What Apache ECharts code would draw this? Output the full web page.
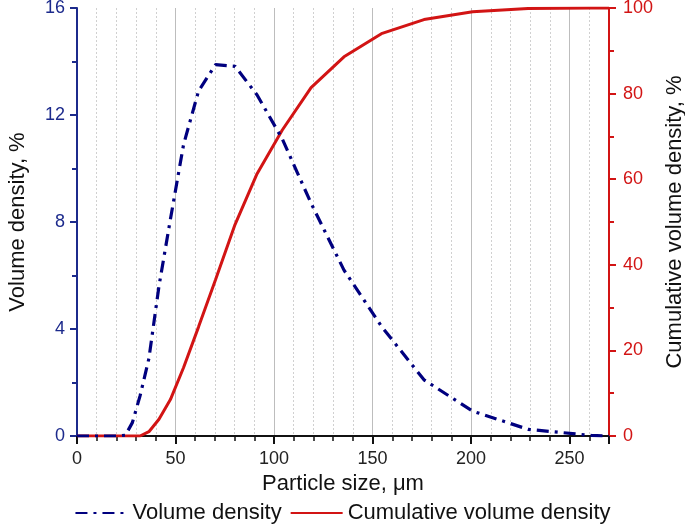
<!DOCTYPE html>
<html>
<head>
<meta charset="utf-8">
<script src="https://cdn.jsdelivr.net/npm/echarts@6/dist/echarts.min.js"></script>
<style>html,body{margin:0;padding:0;background:#fff}#c{width:685px;height:530px}</style>
</head>
<body>
<div id="c"></div>
<script>
var sizes = [0, 10, 20, 21.6, 24.6, 28.1, 32.0, 36.5, 41.6, 47.4, 54.1, 61.7, 70.3, 80.2, 91.4, 104.2, 118.8, 135.5, 154.5, 176.1, 200.8, 228.9, 261.0, 270];
var volumeDensity = [0, 0, 0, 0.01, 0.03, 0.5, 1.5, 2.9, 5.6, 8.1, 10.9, 12.9, 13.88, 13.82, 12.75, 11.1, 8.7, 6.2, 4.1, 2.1, 0.93, 0.25, 0.02, 0];
var cumulativeDensity = [0, 0, 0, 0, 0, 0, 0, 1.0, 3.9, 8.5, 16, 25.5, 36.5, 49.4, 61.3, 71.5, 81.4, 88.6, 94.0, 97.3, 99.1, 99.9, 100, 100];
var xTicks = [0, 50, 100, 150, 200, 250];
var leftTicks = [0, 4, 8, 12, 16];
var rightTicks = [0, 20, 40, 60, 80, 100];

var BLUE = '#1c2a8c';
var NAVY = '#00007f';
var RED = '#d21414';
var FONT = 'Liberation Sans, Arial, sans-serif';

function pairs(xs, ys) { return xs.map(function (x, i) { return [x, ys[i]]; }); }

var chart = echarts.init(document.getElementById('c'));
chart.setOption({
  animation: false,
  textStyle: { fontFamily: FONT },
  grid: { left: 77, right: 76, top: 8, bottom: 94, containLabel: false, outerBoundsMode: 'none' },
  legend: {
    bottom: 1, left: 'center', itemWidth: 52, itemHeight: 14, itemGap: 8,
    itemStyle: { opacity: 0 },
    textStyle: { fontSize: 22, color: '#111', fontFamily: FONT },
    data: ['Volume density', 'Cumulative volume density']
  },
  xAxis: {
    type: 'value', min: 0, max: 270, interval: 50,
    name: 'Particle size, μm', nameLocation: 'middle', nameGap: 36,
    nameTextStyle: { fontSize: 22, color: '#111', fontFamily: FONT },
    axisLine: { show: true, lineStyle: { color: '#111', width: 2 } },
    axisTick: { show: true, length: 8, lineStyle: { color: '#111', width: 2 } },
    minorTick: { show: true, splitNumber: 5, length: 5, lineStyle: { color: '#111', width: 1.5 } },
    splitLine: { show: true, lineStyle: { color: '#bdbdbd', width: 1 } },
    minorSplitLine: { show: true, lineStyle: { color: '#d0d0d0', width: 1, type: [2, 2] } },
    axisLabel: { fontSize: 18, color: '#222', margin: 14, showMaxLabel: false, fontFamily: FONT,
      formatter: function (v) { return xTicks.indexOf(v) >= 0 ? String(v) : ''; } }
  },
  yAxis: [{
    type: 'value', min: 0, max: 16, interval: 4, position: 'left',
    name: 'Volume density, %', nameLocation: 'middle', nameGap: 48,
    nameTextStyle: { fontSize: 22, color: '#111', fontFamily: FONT },
    axisLine: { show: true, lineStyle: { color: BLUE, width: 2 } },
    axisTick: { show: true, length: 7, lineStyle: { color: BLUE, width: 2 } },
    minorTick: { show: true, splitNumber: 2, length: 5, lineStyle: { color: BLUE, width: 2 } },
    splitLine: { show: false },
    axisLabel: { fontSize: 18, color: BLUE, margin: 12, fontFamily: FONT,
      formatter: function (v) { return leftTicks.indexOf(v) >= 0 ? String(v) : ''; } }
  }, {
    type: 'value', min: 0, max: 100, interval: 20, position: 'right',
    name: 'Cumulative volume density, %', nameLocation: 'middle', nameGap: 52,
    nameRotate: 90,
    nameTextStyle: { fontSize: 22, color: '#111', fontFamily: FONT },
    axisLine: { show: true, lineStyle: { color: RED, width: 2 } },
    axisTick: { show: true, length: 7, lineStyle: { color: RED, width: 2 } },
    minorTick: { show: true, splitNumber: 2, length: 5, lineStyle: { color: RED, width: 2 } },
    splitLine: { show: false },
    axisLabel: { fontSize: 18, color: RED, margin: 14, fontFamily: FONT,
      formatter: function (v) { return rightTicks.indexOf(v) >= 0 ? String(v) : ''; } }
  }],
  series: [{
    name: 'Volume density', type: 'line', yAxisIndex: 0, symbol: 'none', smooth: false,
    data: pairs(sizes, volumeDensity), z: 3,
    itemStyle: { color: NAVY },
    lineStyle: { color: NAVY, width: 3.2, type: [12, 6, 3, 6] }
  }, {
    name: 'Cumulative volume density', type: 'line', yAxisIndex: 1, symbol: 'none', smooth: false,
    data: pairs(sizes, cumulativeDensity), z: 2,
    itemStyle: { color: RED },
    lineStyle: { color: RED, width: 3 }
  }]
});
</script>
</body>
</html>
